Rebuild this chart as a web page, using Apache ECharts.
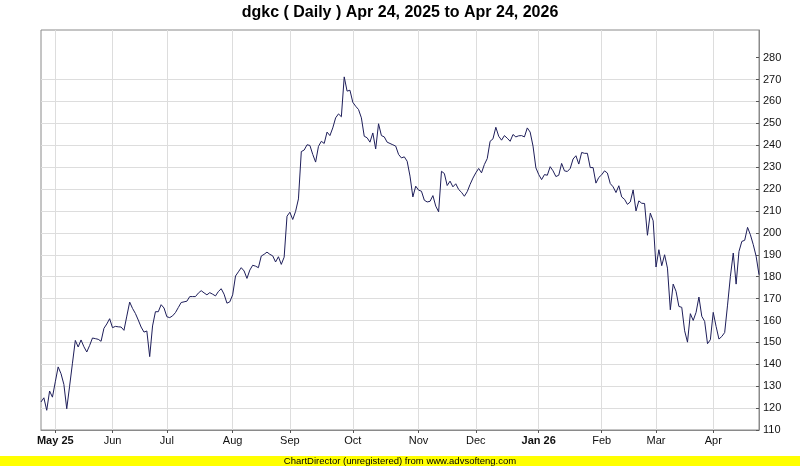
<!DOCTYPE html>
<html><head><meta charset="utf-8">
<script src="https://cdn.jsdelivr.net/npm/echarts@6/dist/echarts.min.js"></script>
<style>html,body{margin:0;padding:0;background:#fff}#c{width:800px;height:466px}</style>
</head><body><div id="c"></div>
<script>
const titleText = 'dgkc ( Daily ) Apr 24, 2025 to Apr 24, 2026';
const footerText = 'ChartDirector (unregistered) from www.advsofteng.com';

const closes = [
122.8,124.7,119,127.8,125,132,138.8,135.7,130.8,119.7,
130,140.5,150.9,147.9,151.1,148,145.6,148.6,152,151.7,
151.4,150.5,156.4,158.4,160.8,156.7,157.3,157.1,157,155.5,
162,168.4,165.5,163.2,160.2,157,154.7,155.2,143.5,157.5,
164,164,167.2,165.7,161.7,161.3,162.1,163.6,165.9,168.2,
168.5,168.8,170.9,170.9,170.9,172.5,173.6,172.6,171.7,172.7,
172,171.2,173.2,174.5,172,167.9,168.5,171.7,180.3,182.2,
184.1,182.6,179.2,183,185.2,184.8,184.1,189.4,190.2,191.2,
190.2,189.5,186.7,189.1,185.6,188.9,207.6,209.4,206.1,209.8,
215.5,237.1,237.8,240.2,239.9,235.8,232.3,239.5,241.8,240.8,
246,244.4,247.9,252.5,254.3,253,271.2,264.7,265.1,259.6,
257.8,256.3,252.5,244.1,243.4,241.4,245.6,238.3,249.8,244.4,
243.8,241.4,240.8,240.2,239.6,235.8,234.2,234.7,232.7,225.9,
216.4,221.3,219.5,219,214.9,214.1,214.4,217,212.2,209.6,
228.1,227.1,221.6,223.6,221,222.4,219.8,218.5,216.7,218.8,
222.1,225,227.4,229.4,227.4,231.2,233.9,241.8,242.9,248.2,
244.1,242.3,244.4,243.2,241.8,244.9,243.8,244.3,244.4,243.8,
247.9,246,239.6,229.7,226.6,224.3,226.6,226.3,230.2,228.3,
225.7,226.3,231.7,228.3,228,229.4,233.7,235.2,231.4,236.7,
236.3,236.3,229.8,229.8,222.7,225.3,226.5,228.3,227.3,222.5,
221,218.4,221.5,216.4,215.3,213,214.1,219.6,210,214.6,
213.5,213.4,198.9,209,205.5,184.4,192.3,185,190,183.9,
164.9,176.6,173.3,166.4,166,155.3,150.1,163.1,160,163.7,
170.7,161.9,159.6,149.4,151.2,163.7,157.3,151.5,152.7,154.5,
167,180.1,190.8,176.6,191.5,196.1,196.6,202.5,199.1,194.6,
189.3,180.9
];

const monthTickIndex = [5, 25, 44, 67, 87, 109, 132, 152, 174, 196, 215, 235];
const monthLabels = ['May 25', 'Jun', 'Jul', 'Aug', 'Sep', 'Oct', 'Nov', 'Dec', 'Jan 26', 'Feb', 'Mar', 'Apr'];
const boldLabels = ['May 25', 'Jan 26'];
const yTickValues = [110, 120, 130, 140, 150, 160, 170, 180, 190, 200, 210, 220, 230, 240, 250, 260, 270, 280];

const FONT = "'Liberation Sans', Arial, sans-serif";
const categories = closes.map((_, i) => String(i));
const isMonth = (idx) => monthTickIndex.indexOf(idx) >= 0;

const splitColors = [];
for (let k = 0; k < 20; k++) splitColors.push(k < yTickValues.length ? '#dddddd' : 'rgba(0,0,0,0)');

const chart = echarts.init(document.getElementById('c'), null, { renderer: 'canvas' });
chart.setOption({
  animation: false,
  backgroundColor: '#ffffff',
  title: {
    text: titleText,
    left: 'center',
    top: 5,
    padding: 0,
    textStyle: { fontFamily: FONT, fontSize: 16, fontWeight: 'bold', color: '#000' }
  },
  grid: {
    left: 41, right: 41, top: 30, bottom: 36,
    show: true, borderColor: '#8a8a8a', borderWidth: 1, backgroundColor: 'transparent'
  },
  xAxis: {
    type: 'category',
    data: categories,
    boundaryGap: false,
    axisLine: { show: true, lineStyle: { color: '#8a8a8a', width: 1 } },
    axisTick: { show: true, length: 3, interval: (i) => isMonth(i), lineStyle: { color: '#555' } },
    splitLine: { show: true, interval: (i) => isMonth(i), lineStyle: { color: '#dddddd', width: 1 } },
    axisLabel: {
      interval: (i) => isMonth(i),
      margin: 5,
      fontFamily: FONT, fontSize: 11, color: '#111',
      formatter: (v, idx) => {
        const k = monthTickIndex.indexOf(Number(v));
        if (k < 0) return '';
        const lab = monthLabels[k];
        return boldLabels.indexOf(lab) >= 0 ? '{b|' + lab + '}' : lab;
      },
      rich: { b: { fontFamily: FONT, fontSize: 11, fontWeight: 'bold', color: '#111' } }
    }
  },
  yAxis: {
    type: 'value',
    position: 'right',
    min: 110,
    max: 292.6,
    interval: 10,
    axisLine: { show: true, lineStyle: { color: '#8a8a8a', width: 1 } },
    axisTick: { show: true, inside: true, length: 3, customValues: yTickValues, lineStyle: { color: '#555' } },
    axisLabel: {
      customValues: yTickValues,
      margin: 4,
      fontFamily: FONT, fontSize: 11, color: '#111',
      formatter: (v) => (v <= 280 && Math.abs(v % 10) < 1e-6) ? String(v) : ''
    },
    splitLine: { show: true, showMinLine: true, showMaxLine: false, lineStyle: { color: splitColors, width: 1 } }
  },
  series: [{
    type: 'line',
    data: closes,
    showSymbol: false,
    symbol: 'none',
    lineStyle: { color: '#1e1e5a', width: 1 },
    silent: true
  }],
  graphic: [
    { type: 'rect', left: 0, top: 456, shape: { x: 0, y: 0, width: 800, height: 10 }, style: { fill: '#ffff00' }, silent: true },
    { type: 'text', left: 'center', top: 456, style: { text: footerText, fontFamily: FONT, fontSize: 9.5, fill: '#000' }, silent: true }
  ]
});
</script>
</body></html>
